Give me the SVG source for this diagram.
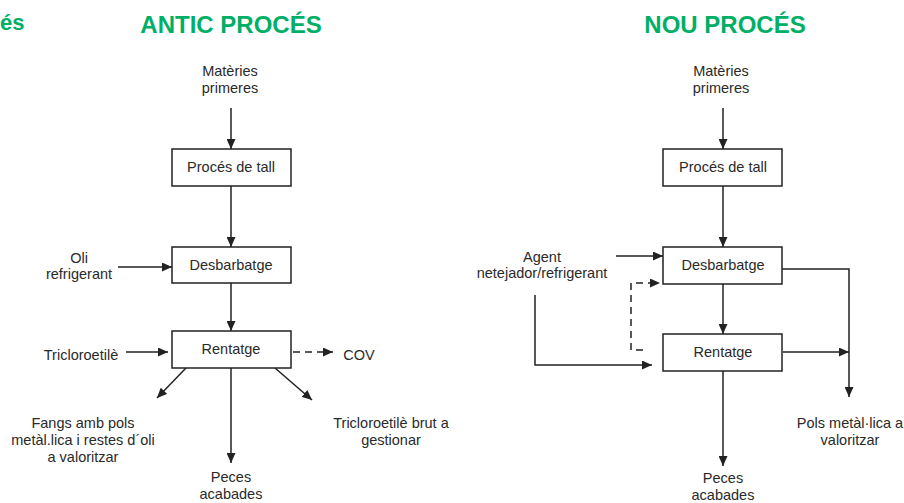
<svg xmlns="http://www.w3.org/2000/svg" width="904" height="503" viewBox="0 0 904 503">
<defs>
<marker id="ah" markerUnits="userSpaceOnUse" markerWidth="11" markerHeight="9" refX="10" refY="4.5" orient="auto">
<path d="M0,0 L10,4.5 L0,9 z" fill="#222"/>
</marker>
<style>
.t{font-family:"Liberation Sans",Arial,sans-serif;font-size:14.5px;fill:#2a2a2a;text-anchor:middle}
.h{font-family:"Liberation Sans",Arial,sans-serif;font-size:24px;font-weight:bold;fill:#00AF66;text-anchor:middle}
.b{fill:#fff;stroke:#222;stroke-width:1.5}
.c{fill:none;stroke:#222;stroke-width:1.5}
.a{marker-end:url(#ah)}
.d{stroke-dasharray:7,5}
</style>
</defs>
<rect width="904" height="503" fill="#fff"/>
<g id="titles">
<text class="h" x="0" y="30" style="text-anchor:start;font-size:22px">és</text>
<text class="h" x="231" y="33">ANTIC PROCÉS</text>
<text class="h" x="725" y="33">NOU PROCÉS</text>
</g>
<g id="connectors">
<line class="c a" x1="231" y1="108" x2="231" y2="149"/>
<line class="c a" x1="231" y1="186" x2="231" y2="247"/>
<line class="c a" x1="118" y1="267" x2="172" y2="267"/>
<line class="c a" x1="231" y1="283" x2="231" y2="331"/>
<line class="c a" x1="126" y1="352" x2="168" y2="352"/>
<line class="c a d" x1="293" y1="352" x2="333" y2="352"/>
<line class="c a" x1="186" y1="368" x2="157" y2="398"/>
<line class="c a" x1="275" y1="368" x2="312" y2="400"/>
<line class="c a" x1="231" y1="368" x2="231" y2="463"/>
<line class="c a" x1="723" y1="108" x2="723" y2="149"/>
<line class="c a" x1="723" y1="186" x2="723" y2="247"/>
<line class="c a" x1="616" y1="256" x2="663" y2="256"/>
<line class="c a" x1="723" y1="284" x2="723" y2="334"/>
<polyline class="c a" points="535,295 535,365 652,365"/>
<polyline class="c a d" points="643,350 631,350 631,283 660,283"/>
<polyline class="c a" points="782,269 849,269 849,397"/>
<line class="c a" x1="783" y1="352" x2="849" y2="352"/>
<line class="c a" x1="723" y1="371" x2="723" y2="466"/>
</g>
<g id="l-materies">
<text class="t" x="230" y="76">Matèries</text>
<text class="t" x="230" y="93">primeres</text>
</g>
<g id="l-tall">
<rect class="b" x="172" y="149" width="119" height="37"/>
<text class="t" x="231" y="172">Procés de tall</text>
</g>
<g id="l-desb">
<rect class="b" x="172" y="247" width="119" height="36"/>
<text class="t" x="231" y="270">Desbarbatge</text>
</g>
<g id="l-oli">
<text class="t" x="79" y="263">Oli</text>
<text class="t" x="79" y="279">refrigerant</text>
</g>
<g id="l-rent">
<rect class="b" x="172" y="331" width="119" height="37"/>
<text class="t" x="231" y="354">Rentatge</text>
</g>
<g id="l-tri">
<text class="t" x="81" y="360">Tricloroetilè</text>
</g>
<g id="l-cov">
<text class="t" x="359" y="360">COV</text>
</g>
<g id="l-fangs">
<text class="t" x="83" y="428">Fangs amb pols</text>
<text class="t" x="83" y="445">metàl.lica i restes d´oli</text>
<text class="t" x="83" y="462">a valoritzar</text>
</g>
<g id="l-tribrut">
<text class="t" x="391" y="428">Tricloroetilè brut a</text>
<text class="t" x="391" y="445">gestionar</text>
</g>
<g id="l-peces">
<text class="t" x="231" y="482">Peces</text>
<text class="t" x="231" y="499">acabades</text>
</g>
<g id="r-materies">
<text class="t" x="721" y="76">Matèries</text>
<text class="t" x="721" y="93">primeres</text>
</g>
<g id="r-tall">
<rect class="b" x="663" y="149" width="119" height="37"/>
<text class="t" x="723" y="172">Procés de tall</text>
</g>
<g id="r-desb">
<rect class="b" x="663" y="247" width="119" height="37"/>
<text class="t" x="723" y="270">Desbarbatge</text>
</g>
<g id="r-agent">
<text class="t" x="542" y="262">Agent</text>
<text class="t" x="542" y="278">netejador/refrigerant</text>
</g>
<g id="r-rent">
<rect class="b" x="663" y="334" width="119" height="37"/>
<text class="t" x="723" y="357">Rentatge</text>
</g>
<g id="r-pols">
<text class="t" x="850" y="428">Pols metàl·lica a</text>
<text class="t" x="850" y="445">valoritzar</text>
</g>
<g id="r-peces">
<text class="t" x="723" y="483">Peces</text>
<text class="t" x="723" y="500">acabades</text>
</g>
</svg>
